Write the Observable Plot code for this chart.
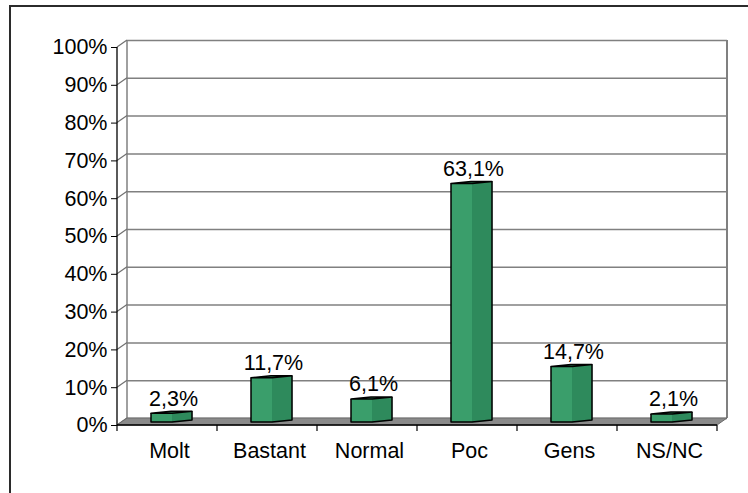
<!DOCTYPE html>
<html><head><meta charset="utf-8">
<script src="https://cdn.jsdelivr.net/npm/d3@7"></script>
<script src="https://cdn.jsdelivr.net/npm/@observablehq/plot@0.6"></script>
<style>
html,body{margin:0;padding:0;background:#fff;}
#wrap{position:relative;width:748px;height:493px;overflow:hidden;background:#fff;}
#frame{position:absolute;left:9px;top:5px;width:800px;height:600px;border-left:2px solid #2b2b2b;border-top:2px solid #2b2b2b;}
#chart{position:absolute;left:0;top:0;}
</style></head><body>
<div id="wrap"><div id="frame"></div><div id="chart"></div></div>
<script>
const categories = ["Molt", "Bastant", "Normal", "Poc", "Gens", "NS/NC"];
const values = [2.3, 11.7, 6.1, 63.1, 14.7, 2.1];
const yTicks = [0, 10, 20, 30, 40, 50, 60, 70, 80, 90, 100];

const data = categories.map((c, i) => ({cat: c, value: values[i]}));
const DX = 10, DY = -7;
const fmtVal = v => v.toFixed(1).replace(".", ",") + "%";

function scene(index, scales) {
  const x = scales.x, y = scales.y;
  const bw = x(categories[1]) - x(categories[0]);
  const x0 = x(categories[0]);
  const x1 = x(categories[categories.length - 1]) + bw;
  const y0 = y(0);
  const g = d3.create("svg:g");
  g.append("line").attr("x1", x0 + DX).attr("x2", x0 + DX).attr("y1", y(100) + DY).attr("y2", y0 + DY)
    .attr("stroke", "#808080").attr("stroke-width", 1.5);
  g.append("line").attr("x1", x1 + DX).attr("x2", x1 + DX).attr("y1", y(100) + DY).attr("y2", y0 + DY)
    .attr("stroke", "#808080").attr("stroke-width", 2);
  for (const t of yTicks) {
    g.append("line").attr("x1", x0).attr("y1", y(t)).attr("x2", x0 + DX).attr("y2", y(t) + DY)
      .attr("stroke", "#707070").attr("stroke-width", 1.2);
  }
  g.append("path")
    .attr("d", `M${x0},${y0}L${x1},${y0}L${x1 + DX},${y0 + DY}L${x0 + DX},${y0 + DY}Z`)
    .attr("fill", "#8a8a8a").attr("stroke", "#6a6a6a").attr("stroke-width", 1);
  g.append("line").attr("x1", x0).attr("x2", x0).attr("y1", y(100)).attr("y2", y0)
    .attr("stroke", "#000").attr("stroke-width", 1.3);
  g.append("line").attr("x1", x0).attr("x2", x1).attr("y1", y0).attr("y2", y0)
    .attr("stroke", "#000").attr("stroke-width", 1.3);
  for (let i = 0; i <= categories.length; i++) {
    const xx = x0 + i * bw;
    g.append("line").attr("x1", xx).attr("x2", xx).attr("y1", y0).attr("y2", y0 + 6)
      .attr("stroke", "#000").attr("stroke-width", 1.2);
  }
  const Fw = 21, Sw = 20, rise = 2, lift = 3;
  for (const d of data) {
    const cx = x(d.cat) + bw / 2;
    const L = cx - 16;
    const base = y0 - lift;
    const top = y(d.value) - lift;
    g.append("path")
      .attr("d", `M${L + Fw},${top}L${L + Fw + Sw},${top - rise}L${L + Fw + Sw},${base - rise}L${L + Fw},${base}Z`)
      .attr("fill", "#2e8a5c").attr("stroke", "#2e8a5c").attr("stroke-width", 0.5);
    g.append("rect").attr("x", L).attr("y", top).attr("width", Fw).attr("height", base - top)
      .attr("fill", "#3a9e6b");
    g.append("path")
      .attr("d", `M${L},${top}L${L + Fw},${top}L${L + Fw + Sw},${top - rise}L${L + Sw},${top - rise}Z`)
      .attr("fill", "#2a7a52").attr("stroke", "#000").attr("stroke-width", 1.5).attr("stroke-linejoin", "round");
    g.append("path")
      .attr("d", `M${L},${top}L${L},${base}L${L + Fw},${base}L${L + Fw + Sw},${base - rise}L${L + Fw + Sw},${top - rise}`)
      .attr("fill", "none").attr("stroke", "#000").attr("stroke-width", 1.5).attr("stroke-linejoin", "round");
  }
  return g.node();
}

const chart = Plot.plot({
  width: 748,
  height: 493,
  marginLeft: 117,
  marginRight: 31,
  marginTop: 47,
  marginBottom: 68,
  style: {fontFamily: "'Liberation Sans', Arial, sans-serif", fontSize: "21.5px", color: "#000", background: "transparent", overflow: "visible"},
  x: {type: "band", domain: categories, padding: 0, axis: null},
  y: {domain: [0, 100], ticks: yTicks, tickFormat: d => d + "%", tickSize: 6, tickPadding: 4, label: null},
  marks: [
    Plot.ruleY(yTicks, {dx: DX, dy: DY, stroke: "#808080", strokeWidth: 1.5}),
    scene,
    Plot.text(data, {x: "cat", y: "value", text: d => fmtVal(d.value), dx: 6, dy: -18, fill: "#000"}),
    Plot.text(categories, {x: d => d, y: () => 0, text: d => d, lineAnchor: "top", dx: 2, dy: 17, fill: "#000"})
  ]
});
document.getElementById("chart").appendChild(chart);
</script>
</body></html>
